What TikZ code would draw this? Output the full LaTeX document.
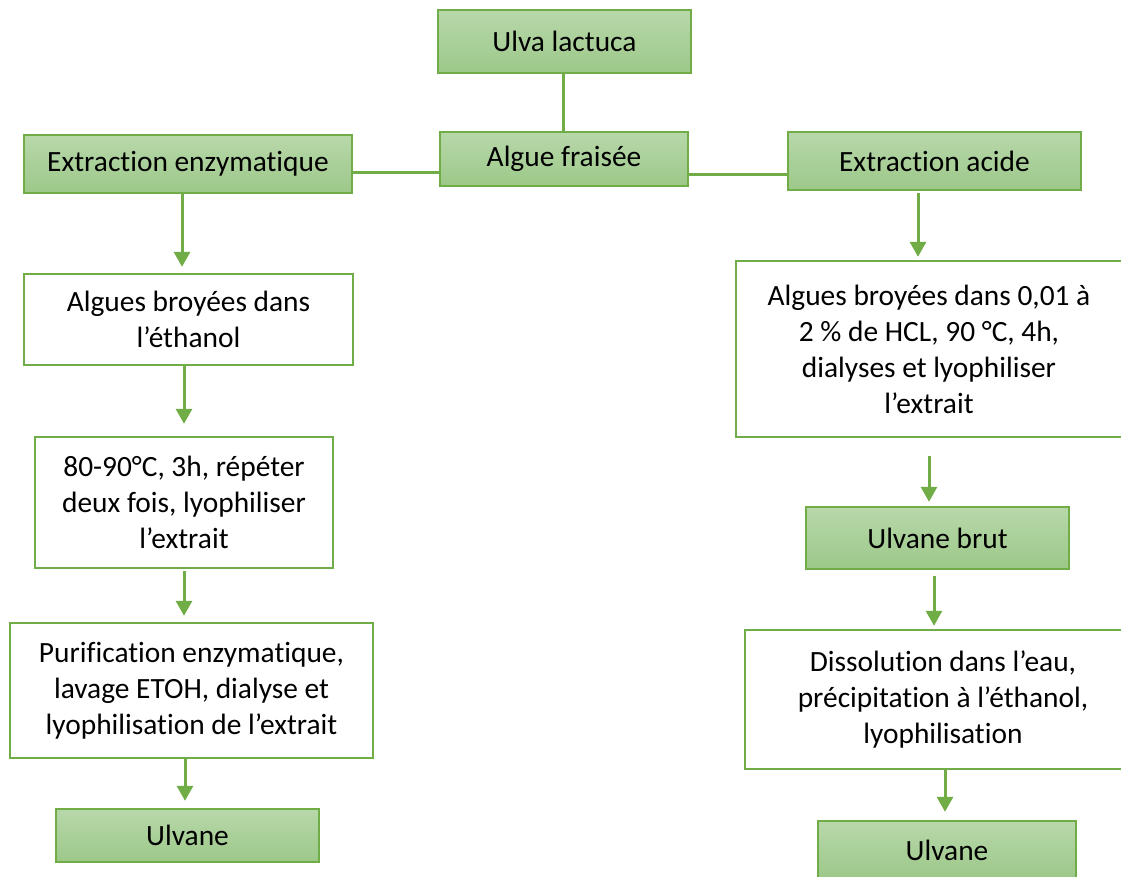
\documentclass[tikz,border=0pt]{standalone}
\usepackage{fontspec}
\setmainfont{Carlito}[Ligatures={NoCommon}]
\usetikzlibrary{arrows.meta}
\definecolor{gborder}{RGB}{112,173,71}
\definecolor{gtop}{RGB}{184,216,170}
\definecolor{gbot}{RGB}{156,200,137}
\tikzset{
  base/.style={draw=gborder, line width=1.2pt, inner sep=0pt, align=center,
    font=\fontsize{14.7}{18}\selectfont, text=black},
  greenbox/.style={base, top color=gtop, bottom color=gbot},
  whitebox/.style={base, fill=white},
  arr/.style={draw=gborder, line width=1.5pt, -{Triangle[width=8pt,length=7.5pt]}},
  link/.style={draw=gborder, line width=1.5pt}
}
\begin{document}
\begin{tikzpicture}[x=0.5pt,y=-0.5pt]
\useasboundingbox (0,0) rectangle (1121,877);
\clip (0,0) rectangle (1121,877);
% top
\node[greenbox, minimum width=126.5pt, minimum height=31.5pt] (ulva) at (564.5,41.5) {Ulva lactuca};
\node[greenbox, minimum width=124pt, minimum height=27pt] (algue) at (564,159) {Algue fraisée};
\node[greenbox, minimum width=164pt, minimum height=29pt] (enz) at (188,164) {Extraction enzymatique};
\node[greenbox, minimum width=146.5pt, minimum height=29pt] (acid) at (934.5,161) {Extraction acide};
% left column
\node[whitebox, minimum width=164.5pt, minimum height=45.5pt] (l1) at (188.5,319.5) {Algues broyées dans\\l’éthanol};
\node[whitebox, minimum width=149pt, minimum height=65.5pt] (l2) at (184,502.5) {80-90°C, 3h, répéter\\deux fois, lyophiliser\\l’extrait};
\node[whitebox, minimum width=181.5pt, minimum height=67.5pt] (l3) at (191.5,690.5) {Purification enzymatique,\\lavage ETOH, dialyse et\\lyophilisation de l’extrait};
\node[greenbox, minimum width=131.5pt, minimum height=26.5pt] (l4) at (187.5,835.5) {Ulvane};
% right column
\node[whitebox, minimum width=193pt, minimum height=88pt] (r1) at (929,349) {Algues broyées dans 0,01 à\\2 \% de HCL, 90 °C, 4h,\\dialyses et lyophiliser\\l’extrait};
\node[greenbox, minimum width=131.5pt, minimum height=31pt] (r2) at (937.5,538) {Ulvane brut};
\node[whitebox, minimum width=198pt, minimum height=69.5pt] (r3) at (943,699.5) {Dissolution dans l’eau,\\précipitation à l’éthanol,\\lyophilisation};
\node[greenbox, minimum width=129pt, minimum height=29pt] (r4) at (947,850) {Ulvane};
% connectors top
\draw[link] ([xshift=-0.75pt]ulva.south) -- ([xshift=-0.5pt]algue.north);
\draw[link] ([yshift=-4.5pt]enz.east) -- ([yshift=-4.5pt]enz.east -| algue.west);
\draw[link] ([yshift=-8pt]algue.east) -- ([yshift=-8pt]algue.east -| acid.west);
% left arrows
\draw[arr] ([xshift=-3pt]enz.south) -- ([xshift=-3.25pt,yshift=3pt]l1.north);
\draw[arr] ([xshift=-2.25pt]l1.south) -- ([yshift=6pt]l2.north);
\draw[arr] ([yshift=-1pt]l2.south) -- ([xshift=-3.75pt,yshift=3pt]l3.north);
\draw[arr] ([xshift=-3.25pt]l3.south) -- ([xshift=-1.25pt,yshift=3.5pt]l4.north);
% right arrows
\draw[arr] ([xshift=-8.25pt,yshift=-1pt]acid.south) -- ([xshift=-5.5pt,yshift=1.5pt]r1.north);
\draw[arr] ([yshift=-9pt]r1.south) -- ([xshift=-4.25pt,yshift=2pt]r2.north);
\draw[arr] ([xshift=-1.75pt,yshift=-3pt]r2.south) -- ([xshift=-4.5pt,yshift=1.5pt]r3.north);
\draw[arr] ([xshift=1pt]r3.south) -- ([xshift=-1pt,yshift=4pt]r4.north);
\end{tikzpicture}
\end{document}
